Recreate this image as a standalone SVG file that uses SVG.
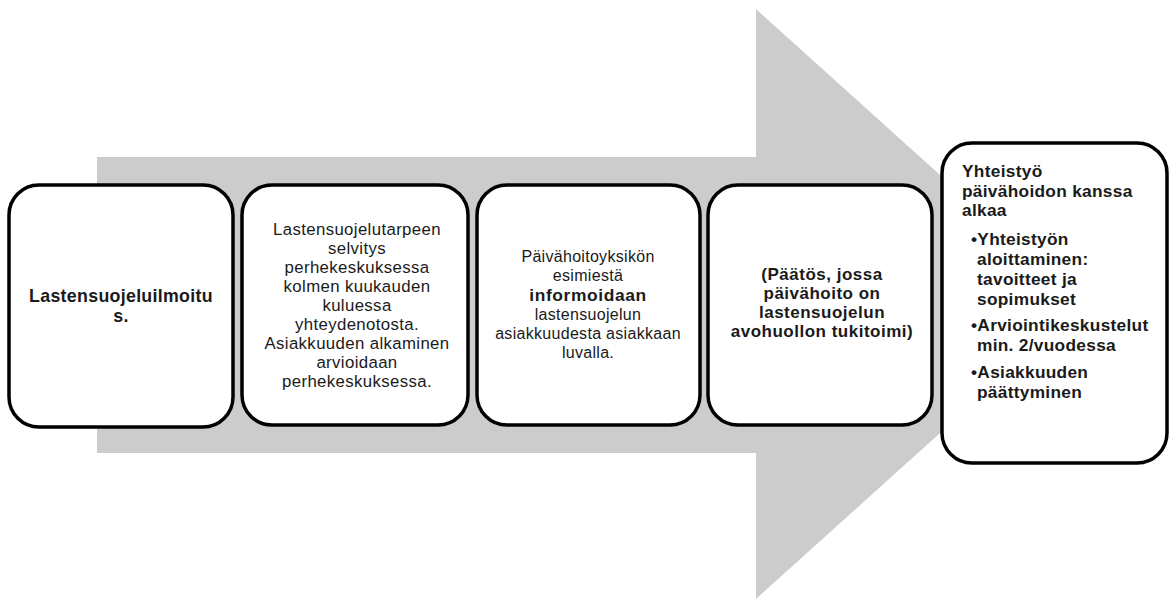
<svg xmlns="http://www.w3.org/2000/svg" width="1170" height="601" viewBox="0 0 1170 601">
  <style>
    .box { fill: #ffffff; stroke: #000000; stroke-width: 3.5; }
    .t { font-family: "Liberation Sans", Arial, sans-serif; fill: #1a1a1a; }
    .c { text-anchor: middle; }
    .b { font-weight: bold; }
  </style>
  <rect width="1170" height="601" fill="#ffffff"/>

  <!-- process arrow behind the steps -->
  <g id="connectors">
    <polygon points="97,157 756,157 756,9 1083,304 756,599 756,453 97,453" fill="#cccccc"/>
  </g>

  <g id="step1">
    <rect class="box" x="9" y="185" width="224" height="242" rx="30" ry="30"/>
    <g class="t c b" font-size="17.8" letter-spacing="0.3">
      <text x="121" y="302">Lastensuojeluilmoitu</text>
      <text x="121" y="322">s.</text>
    </g>
  </g>

  <g id="step2">
    <rect class="box" x="242" y="185" width="226" height="240" rx="30" ry="30"/>
    <g class="t c" font-size="16.8" letter-spacing="0.37">
      <text x="357" y="235">Lastensuojelutarpeen</text>
      <text x="357" y="254">selvitys</text>
      <text x="357" y="273">perhekeskuksessa</text>
      <text x="357" y="292">kolmen kuukauden</text>
      <text x="357" y="311">kuluessa</text>
      <text x="357" y="330">yhteydenotosta.</text>
      <text x="357" y="349">Asiakkuuden alkaminen</text>
      <text x="357" y="368">arvioidaan</text>
      <text x="357" y="387">perhekeskuksessa.</text>
    </g>
  </g>

  <g id="step3">
    <rect class="box" x="477" y="185" width="223" height="240" rx="30" ry="30"/>
    <g class="t c" font-size="16" letter-spacing="0.3">
      <text x="588" y="262">Päivähoitoyksikön</text>
      <text x="588" y="281">esimiestä</text>
      <text x="588" y="301" class="b" font-size="17.4" letter-spacing="0.6">informoidaan</text>
      <text x="588" y="320">lastensuojelun</text>
      <text x="588" y="339">asiakkuudesta asiakkaan</text>
      <text x="588" y="358">luvalla.</text>
    </g>
  </g>

  <g id="step4">
    <rect class="box" x="708" y="185" width="224" height="240" rx="30" ry="30"/>
    <g class="t c b" font-size="17" letter-spacing="0.5">
      <text x="822" y="280">(Päätös, jossa</text>
      <text x="822" y="299">päivähoito on</text>
      <text x="822" y="318">lastensuojelun</text>
      <text x="822" y="337">avohuollon tukitoimi)</text>
    </g>
  </g>

  <g id="step5">
    <rect class="box" x="942" y="143" width="225" height="320" rx="30" ry="30"/>
    <g class="t b" font-size="17.3" letter-spacing="0.3">
      <text x="962" y="177">Yhteistyö</text>
      <text x="962" y="197">päivähoidon kanssa</text>
      <text x="962" y="216">alkaa</text>
      <text x="971" y="245">•Yhteistyön</text>
      <text x="977" y="265">aloittaminen:</text>
      <text x="977" y="285">tavoitteet ja</text>
      <text x="977" y="305">sopimukset</text>
      <text x="971" y="331">•Arviointikeskustelut</text>
      <text x="977" y="351">min. 2/vuodessa</text>
      <text x="971" y="378">•Asiakkuuden</text>
      <text x="977" y="398">päättyminen</text>
    </g>
  </g>
</svg>
